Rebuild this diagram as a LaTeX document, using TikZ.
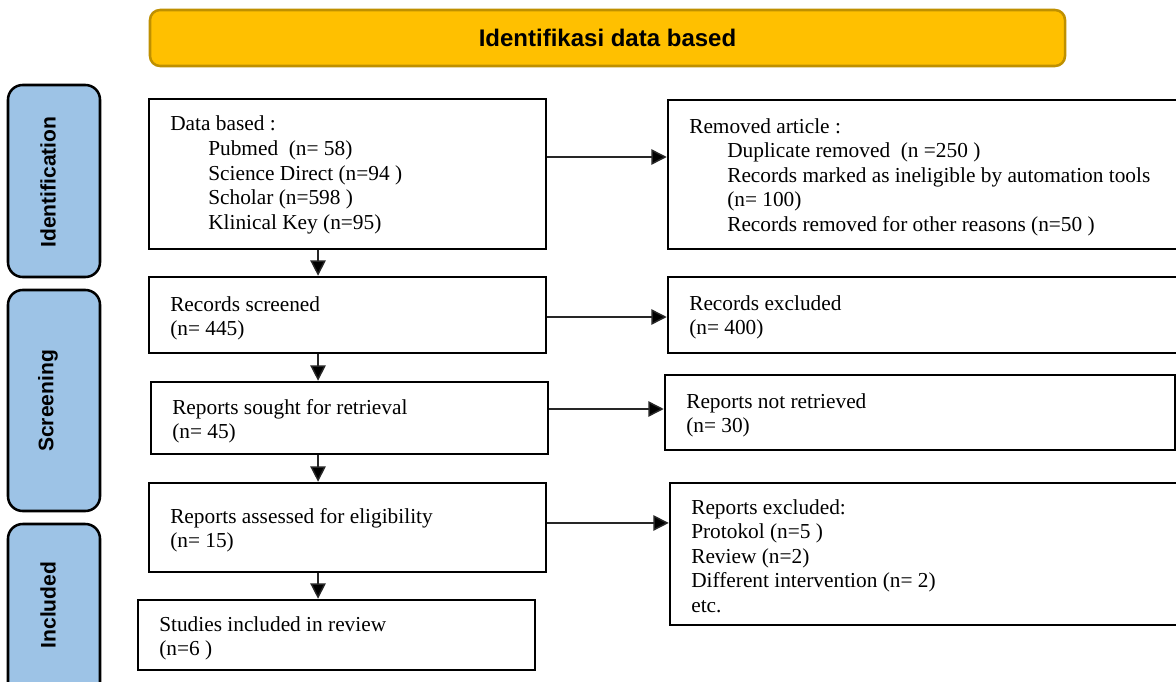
\documentclass[tikz,border=0pt]{standalone}
\usepackage{fontspec}
\setmainfont{Liberation Serif}
\setsansfont{Liberation Sans}
\usetikzlibrary{arrows.meta,fit}
\definecolor{bannerfill}{HTML}{FFC000}
\definecolor{bannerline}{HTML}{BF9000}
\definecolor{tabblue}{HTML}{9DC3E6}
\definecolor{arrowgray}{HTML}{262626}

\begin{document}
\begin{tikzpicture}[x=0.75pt,y=-0.75pt,
  box/.style={draw=black, line width=1.9pt, inner sep=0pt, fill=white},
  tab/.style={draw=black, line width=1.9pt, rounded corners=11pt, fill=tabblue, inner sep=0pt},
  banner/.style={draw=bannerline, line width=1.9pt, rounded corners=7.5pt, fill=bannerfill, inner sep=0pt},
  bannerlabel/.style={inner sep=0pt, font=\sffamily\bfseries\fontsize{18}{21}\selectfont},
  tablabel/.style={rotate=90, font=\sffamily\bfseries\fontsize{15.8}{18}\selectfont, inner sep=0pt},
  txt/.style={anchor=base west, inner sep=0pt, font=\fontsize{16}{18.4}\selectfont},
  arr/.style={draw=arrowgray, line width=1.1pt, -{Triangle[length=11.5pt,width=11.5pt,fill=black]}}
]
\path[use as bounding box, clip] (0,0) rectangle (1176,681);
\fill[white] (0,0) rectangle (1176,681);

% header banner
\node[banner, fit={(150,10) (1065,66)}] (head) {};
\node[bannerlabel] (headl) at (head.center) {Identifikasi data based};

% phase tabs on the left
\node[tab, fit={(8,85) (100,277)}] (tabid) {};
\node[tab, fit={(8,290) (100,511)}] (tabsc) {};
\node[tab, fit={(8,524) (100,700)}] (tabin) {};
\node[tablabel] (tabidl) at (48,182) {Identification};
\node[tablabel] (tabscl) at (48,401) {Screening};
\node[tablabel] (tabinl) at (48,605) {Included};

% main column
\node[box, fit={(149,99) (546,249)}] (db) {};
\node[box, fit={(149,277) (546,353)}] (rs) {};
\node[box, fit={(151,382) (548,454)}] (rsr) {};
\node[box, fit={(149,483) (546,572)}] (ra) {};
\node[box, fit={(138,600) (535,670)}] (si) {};

% side column
\node[box, fit={(668,100) (1190,249)}] (rm) {};
\node[box, fit={(668,277) (1190,353)}] (rx) {};
\node[box, fit={(665,375) (1175,450)}] (nr) {};
\node[box, fit={(670,483) (1190,625)}] (ex) {};

% box texts
\node[txt] (dbt) at (170,131) {\begin{tabular}[t]{@{}l@{}}
Data based :\\
\hspace*{28.5pt}Pubmed\ \ (n= 58)\\
\hspace*{28.5pt}Science Direct (n=94 )\\
\hspace*{28.5pt}Scholar (n=598 )\\
\hspace*{28.5pt}Klinical Key (n=95)
\end{tabular}};
\node[txt] (rmt) at (689,133) {\begin{tabular}[t]{@{}l@{}}
Removed article :\\
\hspace*{28.5pt}Duplicate removed\ \ (n =250 )\\
\hspace*{28.5pt}Records marked as ineligible by automation tools\\
\hspace*{28.5pt}(n= 100)\\
\hspace*{28.5pt}Records removed for other reasons (n=50 )
\end{tabular}};
\node[txt] (rst) at (170,311) {\begin{tabular}[t]{@{}l@{}}
Records screened\\ (n= 445)
\end{tabular}};
\node[txt] (rxt) at (689,310) {\begin{tabular}[t]{@{}l@{}}
Records excluded\\ (n= 400)
\end{tabular}};
\node[txt] (rsrt) at (172,414) {\begin{tabular}[t]{@{}l@{}}
Reports sought for retrieval\\ (n= 45)
\end{tabular}};
\node[txt] (nrt) at (686,408) {\begin{tabular}[t]{@{}l@{}}
Reports not retrieved\\ (n= 30)
\end{tabular}};
\node[txt] (rat) at (170,523) {\begin{tabular}[t]{@{}l@{}}
Reports assessed for eligibility\\ (n= 15)
\end{tabular}};
\node[txt] (ext) at (691,514) {\begin{tabular}[t]{@{}l@{}}
Reports excluded:\\
Protokol (n=5 )\\
Review (n=2)\\
Different intervention (n= 2)\\
etc.
\end{tabular}};
\node[txt] (sit) at (159,631) {\begin{tabular}[t]{@{}l@{}}
Studies included in review\\ (n=6 )
\end{tabular}};

% flow downwards
\draw[arr] ([xshift=-22.1pt]db.south) -- ([xshift=-22.1pt]db.south |- rs.north);
\draw[arr] ([xshift=-22.1pt]rs.south) -- ([xshift=-22.1pt]rs.south |- rsr.north);
\draw[arr] ([xshift=-23.6pt]rsr.south) -- ([xshift=-23.6pt]rsr.south |- ra.north);
\draw[arr] ([xshift=-22.1pt]ra.south) -- ([xshift=-22.1pt]ra.south |- si.north);

% exclusions to the right
\draw[arr] ([yshift=12.75pt]db.east) -- ([yshift=12.75pt]db.east -| rm.west);
\draw[arr] ([yshift=-1.5pt]rs.east) -- ([yshift=-1.5pt]rs.east -| rx.west);
\draw[arr] ([yshift=6.75pt]rsr.east) -- ([yshift=6.75pt]rsr.east -| nr.west);
\draw[arr] ([yshift=3.4pt]ra.east) -- ([yshift=3.4pt]ra.east -| ex.west);
\end{tikzpicture}
\end{document}
